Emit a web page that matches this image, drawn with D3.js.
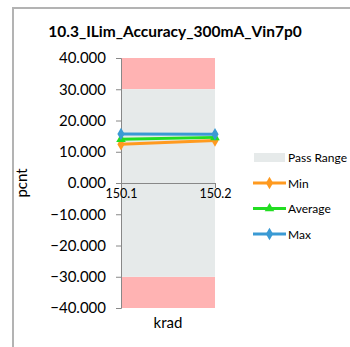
<!DOCTYPE html>
<html><head><meta charset="utf-8">
<script src="https://cdn.jsdelivr.net/npm/d3@7"></script>
<style>body{margin:0;background:#fff;}svg{display:block;font-family:Lato,"Open Sans",sans-serif;}</style>
</head><body>
<script>
const categories = ["150.1", "150.2"];
const minValues = [12.4, 13.6];
const avgValues = [14.0, 14.6];
const maxValues = [15.7, 15.6];
const yTicks = [40, 30, 20, 10, 0, -10, -20, -30, -40];
const passRange = [-30, 30];
const failBands = [[30, 40], [-40, -30]];
const seriesNames = ["Min", "Average", "Max"];
const seriesColors = ["#ff9a1f", "#22dd22", "#3a9ad4"];

const W = 350, H = 347;
const svg = d3.select("body").append("svg").attr("width", W).attr("height", H);

// outer frame
svg.append("path").attr("d", "M13,360 L13,8 L360,8").attr("fill", "none").attr("stroke", "#b3b3b3").attr("stroke-width", 2);

const x = d3.scalePoint().domain(categories).range([121, 215]);
const y = d3.scaleLinear().domain([-40, 40]).range([308, 58]);

svg.append("text").attr("x", 175).attr("y", 37).attr("text-anchor", "middle")
  .attr("font-weight", "bold").attr("font-size", 15.5).text("10.3_ILim_Accuracy_300mA_Vin7p0");

// bands
failBands.forEach(b => {
  svg.append("rect").attr("x", x.range()[0]).attr("width", x.range()[1] - x.range()[0])
    .attr("y", y(b[1])).attr("height", y(b[0]) - y(b[1])).attr("fill", "#ffb3b3");
});
svg.append("rect").attr("x", x.range()[0]).attr("width", x.range()[1] - x.range()[0])
  .attr("y", y(passRange[1])).attr("height", y(passRange[0]) - y(passRange[1])).attr("fill", "#e6eaea");

// y axis
const ya = svg.append("g").attr("transform", "translate(121,0)")
  .call(d3.axisLeft(y).tickValues(yTicks).tickFormat(d3.format(".3f")).tickSize(5).tickPadding(10));
ya.select(".domain").attr("stroke", "#888");
ya.selectAll(".tick line").attr("stroke", "#888");
ya.selectAll("text").attr("font-size", 15).attr("font-family", "Lato,sans-serif").attr("fill", "#000");

// x axis at 0
const xa = svg.append("g").attr("transform", `translate(0,${y(0)})`)
  .call(d3.axisBottom(x).tickSize(5).tickSizeOuter(0).tickPadding(1));
xa.select(".domain").attr("stroke", "#888");
xa.selectAll(".tick line").attr("stroke", "#888");
xa.selectAll("text").attr("font-size", 12.5).attr("font-family", "Lato,sans-serif").attr("fill", "#000");

// axis titles
svg.append("text").attr("transform", `translate(27,${y(0)}) rotate(-90)`).attr("text-anchor", "middle")
  .attr("font-size", 15).text("pcnt");
svg.append("text").attr("x", 168).attr("y", 328).attr("text-anchor", "middle").attr("font-size", 15).text("krad");

// series
const series = [minValues, avgValues, maxValues];
const line = d3.line().x((d, i) => x(categories[i])).y(d => y(d));
const diamond = d3.symbol().type(d3.symbolDiamond).size(45);
const tri = d3.symbol().type(d3.symbolTriangle).size(40);
series.forEach((vals, si) => {
  svg.append("path").datum(vals).attr("d", line).attr("fill", "none")
    .attr("stroke", seriesColors[si]).attr("stroke-width", 3);
  svg.selectAll(null).data(vals).enter().append("path")
    .attr("d", si === 1 ? tri : diamond)
    .attr("transform", (d, i) => `translate(${x(categories[i])},${y(d)})`)
    .attr("fill", seriesColors[si]);
});

// legend
const lg = svg.append("g");
lg.append("rect").attr("x", 254).attr("y", 153).attr("width", 31).attr("height", 9).attr("fill", "#e6eaea");
lg.append("text").attr("x", 288).attr("y", 162).attr("font-size", 12).text("Pass Range");
seriesNames.forEach((n, i) => {
  const yy = 183 + i * 25.5;
  lg.append("line").attr("x1", 253).attr("x2", 286).attr("y1", yy).attr("y2", yy)
    .attr("stroke", seriesColors[i]).attr("stroke-width", 3);
  lg.append("path").attr("d", i === 1 ? tri : diamond).attr("transform", `translate(269.5,${yy})`).attr("fill", seriesColors[i]);
  lg.append("text").attr("x", 288).attr("y", yy + 4.5).attr("font-size", 12).text(n);
});
</script>
</body></html>
